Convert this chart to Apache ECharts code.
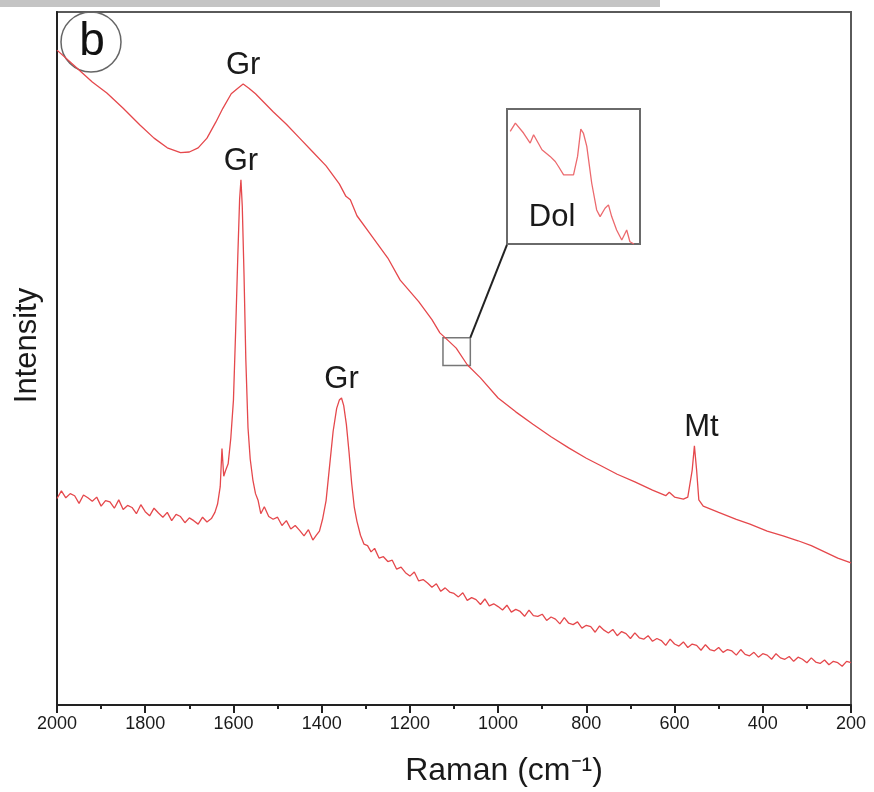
<!DOCTYPE html>
<html>
<head>
<meta charset="utf-8">
<title>Raman spectra (b)</title>
<script src="https://cdn.jsdelivr.net/npm/echarts@6/dist/echarts.min.js"></script>
<style>
    html, body { margin: 0; padding: 0; background: #fff; }
    #chart { width: 874px; height: 792px; }
</style>
</head>
<body>
<div id="chart"></div>
<script>
// Upper spectrum (strong background, broad Gr band, Mt peak)
var upperX = [2000, 1960, 1920, 1887, 1850, 1812, 1780, 1750, 1720, 1700, 1680, 1660, 1640, 1624, 1605, 1590,
    1578, 1565, 1550, 1530, 1510, 1480, 1450, 1420, 1390, 1360, 1345, 1335, 1320, 1290, 1250, 1222, 1180, 1150,
    1132, 1110, 1095, 1070, 1040, 1000, 960, 921, 880, 840, 800, 769, 730, 690, 650, 620, 612, 600, 580, 570,
    560, 555, 550, 545, 535, 500, 460, 429, 390, 354, 320, 290, 260, 230, 200];
var upperY = [94.5, 92.2, 89.9, 88.3, 86.1, 83.7, 81.8, 80.4, 79.7, 79.8, 80.4, 81.8, 84.1, 86.1, 88.2, 89.0,
    89.6, 89.0, 88.2, 86.9, 85.6, 83.8, 81.8, 79.8, 77.8, 75.2, 73.4, 72.9, 70.6, 68.0, 64.5, 61.3, 58.2, 55.6,
    53.7, 52.4, 51.5, 49.1, 47.2, 44.3, 42.3, 40.5, 38.7, 37.1, 35.6, 34.6, 33.3, 32.2, 31.0, 30.2, 30.7, 30.0, 29.7, 30.0,
    33.9, 37.4, 33.9, 29.6, 28.7, 27.8, 26.8, 26.1, 25.1, 24.4, 23.7, 23.0, 22.1, 21.2, 20.5];

// Lower spectrum (sharp G band, D band, noisy baseline)
var lowerX = [
    2000, 1990, 1980, 1970, 1960, 1950, 1940, 1930, 1920, 1910,
    1900, 1890, 1880, 1870, 1860, 1850, 1840, 1830, 1820, 1810,
    1800, 1790, 1780, 1770, 1760, 1750, 1740, 1730, 1720, 1710,
    1700, 1690, 1680, 1670, 1660, 1650, 1642, 1636, 1630, 1626,
    1622, 1618, 1612, 1606, 1600, 1595, 1590, 1586, 1583, 1580,
    1576, 1572, 1567, 1562, 1556, 1550, 1544, 1538, 1530, 1520,
    1510, 1500, 1490, 1480, 1470, 1460, 1450, 1440, 1430, 1420,
    1412, 1405, 1398, 1390, 1382, 1374, 1366, 1360, 1355, 1350,
    1344, 1338, 1332, 1326, 1320, 1312, 1304, 1296, 1288, 1280,
    1270, 1260, 1250, 1240, 1230, 1220, 1210, 1200, 1190, 1180,
    1170, 1160, 1150, 1140, 1130, 1120, 1110, 1100, 1090, 1080,
    1070, 1060, 1050, 1040, 1030, 1020, 1010, 1000, 990, 980,
    970, 960, 950, 940, 930, 920, 910, 900, 890, 880,
    870, 860, 850, 840, 830, 820, 810, 800, 790, 780,
    770, 760, 750, 740, 730, 720, 710, 700, 690, 680,
    670, 660, 650, 640, 630, 620, 610, 600, 590, 580,
    570, 560, 550, 540, 530, 520, 510, 500, 490, 480,
    470, 460, 450, 440, 430, 420, 410, 400, 390, 380,
    370, 360, 350, 340, 330, 320, 310, 300, 290, 280,
    270, 260, 250, 240, 230, 220, 210, 200];
var lowerY = [
    29.8, 30.9, 29.9, 30.5, 30.2, 29.1, 30.3, 29.9, 29.4, 30.0,
    28.7, 29.5, 29.3, 28.4, 29.6, 28.2, 28.8, 28.5, 27.6, 28.9,
    27.9, 27.3, 28.4, 27.7, 27.1, 27.8, 26.6, 27.5, 27.2, 26.3,
    27.0, 26.6, 26.1, 27.1, 26.4, 26.9, 27.8, 29.0, 31.5, 37.0,
    33.0, 33.8, 34.8, 38.5, 44.0, 54.0, 65.0, 73.0, 75.8, 72.0,
    62.0, 50.0, 40.0, 35.5, 32.5, 30.5, 29.5, 27.6, 28.6, 27.2,
    26.8, 27.1, 25.9, 26.6, 25.4, 25.9, 25.2, 24.4, 25.3, 23.8,
    24.5, 25.1, 26.8, 29.5, 34.5, 39.5, 42.8, 44.0, 44.3, 43.2,
    40.5, 36.5, 32.0, 28.5, 26.5, 24.5, 23.2, 23.0, 22.1, 22.6,
    21.2, 21.4, 20.7, 20.9, 19.6, 19.9, 19.1, 18.6, 19.2, 17.9,
    18.1, 17.6, 17.0, 17.5, 16.4, 16.9, 16.3, 16.1, 15.6, 16.2,
    15.1, 15.5, 15.2, 14.5, 15.3, 14.3, 14.6, 14.2, 13.7, 14.4,
    13.4, 13.8, 13.5, 12.8, 13.7, 12.9, 12.8, 13.1, 12.2, 12.7,
    12.4, 11.7, 12.6, 11.8, 11.6, 12.0, 11.1, 11.5, 11.3, 10.5,
    11.4, 10.8, 10.4, 10.9, 10.0, 10.6, 10.3, 9.6, 10.4, 9.7,
    9.5, 10.0, 9.2, 9.6, 9.3, 8.6, 9.5, 8.8, 8.5, 9.1,
    8.3, 8.8, 8.6, 7.9, 8.7, 8.0, 7.8, 8.3, 7.6, 8.0,
    7.8, 7.2, 8.0, 7.3, 7.1, 7.6, 6.9, 7.4, 7.2, 6.6,
    7.4, 6.8, 6.6, 7.0, 6.3, 6.9, 6.6, 6.1, 6.8, 6.2,
    6.0, 6.5, 5.8, 6.3, 6.1, 5.6, 6.3, 6.1];

// Inset: magnified part of the upper spectrum around 1100 cm-1 (Dol)
var insetX = [1123.5, 1121.1, 1117.3, 1114.2, 1112.6, 1108.7, 1104.9, 1102.5, 1101.0, 1098.6, 1094.0, 1092.1,
    1090.6, 1089.4, 1087.8, 1085.5, 1083.2, 1081.6, 1079.3, 1077.7, 1076.2, 1073.9, 1071.5, 1069.2, 1067.7, 1065.8];
var insetY = [83.4, 89.6, 82.2, 74.8, 80.9, 69.8, 64.9, 61.1, 57.4, 51.2, 51.2, 64.9,
    85.1, 82.2, 72.3, 45.0, 25.2, 20.3, 26.5, 29.0, 20.3, 10.4, 3.0, 10.4, 1.7, 0.0];

// Peak labels: [wavenumber, intensity, text]
var peakLabels = [
    [1578, 89.6, "Gr"],
    [1583, 75.8, "Gr"],
    [1355, 44.3, "Gr"],
    [555, 37.4, "Mt"]
];

var lineColor = "#e5484c";
var textColor = "#1a1a1a";
var fontFamily = "'Liberation Sans', Arial, sans-serif";

/**
 * Zip two arrays into [x, y] pairs.
 */
function zip(xs, ys) {
    var out = [];
    for (var i = 0; i < xs.length; i++) {
        out.push([xs[i], ys[i]]);
    }
    return out;
}

var chart = echarts.init(document.getElementById("chart"), null, { renderer: "canvas" });

var options = {
    animation: false,
    backgroundColor: "#fff",
    grid: [
        {
            left: 57, top: 12, width: 794, height: 693,
            show: true, borderColor: "#5a5a5a", borderWidth: 2, backgroundColor: "transparent",
        },
        {
            left: 507, top: 109, width: 133, height: 135,
            show: true, borderColor: "#6a6a6a", borderWidth: 2, backgroundColor: "#fff",
        },
    ],
    xAxis: [
        {
            type: "value", gridIndex: 0, min: 200, max: 2000, interval: 200, inverse: true,
            name: "Raman (cm\u207B\u00B9)", nameLocation: "middle", nameGap: 50,
            nameTextStyle: { fontSize: 32, color: textColor, fontFamily: fontFamily, padding: [0, 0, 0, 100] },
            axisLine: { lineStyle: { color: "#222", width: 2 } },
            axisTick: { inside: false, length: 8, lineStyle: { color: "#222", width: 2 } },
            minorTick: { show: true, splitNumber: 2, length: 4, lineStyle: { color: "#222", width: 2 } },
            axisLabel: { fontSize: 18, color: textColor, margin: 10, fontFamily: fontFamily,
                formatter: function (v) { return String(v); } },
            splitLine: { show: false },
        },
        {
            type: "value", gridIndex: 1, min: 1063, max: 1125, inverse: true, show: false,
        },
    ],
    yAxis: [
        {
            type: "value", gridIndex: 0, min: 0, max: 100,
            name: "Intensity", nameLocation: "middle", nameGap: 14,
            nameTextStyle: { fontSize: 31, color: textColor, fontFamily: fontFamily, padding: [0, 0, 0, 26] },
            axisLine: { show: true, lineStyle: { color: "#222", width: 2 } },
            axisTick: { show: false },
            axisLabel: { show: false },
            splitLine: { show: false },
        },
        {
            type: "value", gridIndex: 1, min: 0, max: 100, show: false,
        },
    ],
    series: [
        {
            name: "upper", type: "line", xAxisIndex: 0, yAxisIndex: 0,
            data: zip(upperX, upperY), showSymbol: false, smooth: false,
            lineStyle: { color: lineColor, width: 1.3 },
            markArea: {
                silent: true,
                itemStyle: { color: "rgba(0,0,0,0)", borderColor: "#777", borderWidth: 1.5 },
                data: [[{ coord: [1125, 53] }, { coord: [1063, 49] }]],
            },
            markLine: {
                silent: true, symbol: "none", label: { show: false },
                lineStyle: { color: "#222", width: 2, type: "solid" },
                data: [[{ coord: [1063, 53] }, { coord: [980, 66.4] }]],
            },
        },
        {
            name: "lower", type: "line", xAxisIndex: 0, yAxisIndex: 0,
            data: zip(lowerX, lowerY), showSymbol: false,
            lineStyle: { color: lineColor, width: 1.3 },
            markPoint: {
                symbol: "circle", symbolSize: 0,
                label: { show: true, position: "top", distance: 3, fontSize: 31, color: textColor, fontFamily: fontFamily,
                    formatter: function (p) { return p.name; } },
                data: peakLabels.map(function (p) {
                    return { name: p[2], coord: [p[0], p[1]], label: p[2] === "Mt" ? { offset: [7, 0] } : {} };
                }),
            },
        },
        {
            name: "inset", type: "line", xAxisIndex: 1, yAxisIndex: 1,
            data: zip(insetX, insetY), showSymbol: false, clip: true,
            lineStyle: { color: "#ec6a6e", width: 1.3 },
            markPoint: {
                symbol: "circle", symbolSize: 0,
                label: { show: true, position: "inside", fontSize: 31, color: textColor, fontFamily: fontFamily,
                    formatter: "Dol" },
                data: [{ name: "Dol", coord: [1104, 20] }],
            },
        },
    ],
    graphic: [
        // grey strip at the top edge of the scan
        { type: "rect", shape: { x: 0, y: 0, width: 660, height: 7 }, style: { fill: "#c4c4c4" }, silent: true },
        // panel letter
        { type: "circle", shape: { cx: 91, cy: 42, r: 30 }, style: { fill: "rgba(255,255,255,0)", stroke: "#666", lineWidth: 1.5 } },
        { type: "text", x: 92, y: 42, style: { text: "b", fontSize: 46, fill: "#111", fontFamily: fontFamily,
            align: "center", verticalAlign: "middle" } },
    ],
};

chart.setOption(options);
</script>
</body>
</html>
